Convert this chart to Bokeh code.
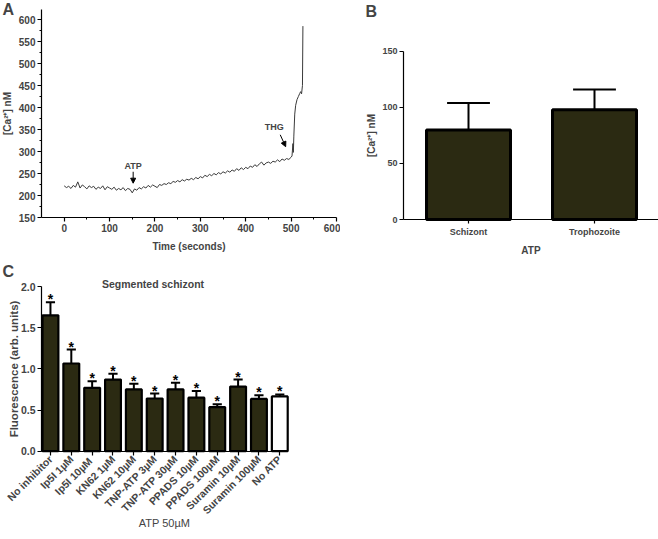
from math import pi
from bokeh.plotting import figure
from bokeh.layouts import row, column
from bokeh.models import (Range1d, FixedTicker, Label, Arrow, NormalHead,
                          ColumnDataSource, NumeralTickFormatter)
from bokeh.core.properties import value
from bokeh.embed import file_html
from bokeh.resources import INLINE

FONT = "Liberation Sans"
BAR_FILL = "#2b2a12"

# ---------------- Panel A data: Ca2+ trace ----------------
time_s = [0, 5, 10, 15, 20, 25, 30, 35, 40, 45, 50,
          55, 60, 65, 70, 75, 80, 85, 90, 95, 100,
          105, 110, 115, 120, 125, 130, 135, 140, 145, 150,
          155, 160, 165, 170, 175, 180, 185, 190, 195, 200,
          205, 210, 215, 220, 225, 230, 235, 240, 245, 250,
          255, 260, 265, 270, 275, 280, 285, 290, 295, 300,
          305, 310, 315, 320, 325, 330, 335, 340, 345, 350,
          355, 360, 365, 370, 375, 380, 385, 390, 395, 400,
          405, 410, 415, 420, 425, 430, 435, 440, 445, 450,
          455, 460, 465, 470, 475, 480, 485, 490, 495, 500,
          502, 504, 505, 506, 508, 510, 513, 516, 519, 521, 523, 525, 526]
ca_nM = [222, 218, 221, 216, 223, 219, 231, 217, 224, 220, 215,
         222, 218, 221, 214, 219, 216, 222, 213, 220, 217,
         214, 219, 212, 216, 213, 218, 211, 216, 214, 206,
         215, 212, 218, 215, 220, 217, 223, 219, 224, 221,
         218, 225, 223, 227, 225, 229, 227, 232, 230, 234,
         231, 236, 233, 237, 235, 239, 236, 241, 238, 243,
         240, 246, 243, 248, 245, 250, 247, 252, 249, 254,
         251, 256, 253, 258, 255, 261, 257, 263, 259, 264,
         261, 267, 264, 270, 266, 272, 276, 269, 274, 276,
         273, 278, 276, 281, 277, 283, 280, 284, 282, 287,
         290, 318, 298, 335, 385, 405, 418, 425, 432, 436, 431, 450, 585]
x_ticks_A = [0, 100, 200, 300, 400, 500, 600]
y_ticks_A = [150, 200, 250, 300, 350, 400, 450, 500, 550, 600]

# ---------------- Panel B data ----------------
stages = ["Schizont", "Trophozoite"]
stage_ca = [80, 98]
stage_sem = [24, 18]
y_ticks_B = [0, 50, 100, 150]

# ---------------- Panel C data ----------------
treatments = ["No inhibitor", "Ip5I 1µM", "Ip5I  10µM", "KN62 1µM", "KN62 10µM",
              "TNP-ATP 3µM", "TNP-ATP 30µM", "PPADS 10µM", "PPADS 100µM",
              "Suramin 10µM", "Suramin 100µM", "No ATP"]
fluor = [1.65, 1.065, 0.77, 0.87, 0.75, 0.64, 0.75, 0.65, 0.535, 0.785, 0.635, 0.665]
fluor_sem = [0.16, 0.17, 0.08, 0.07, 0.07, 0.06, 0.08, 0.08, 0.035, 0.085, 0.045, 0.025]
fill_C = [BAR_FILL] * 11 + ["white"]
y_ticks_C = [0.0, 0.5, 1.0, 1.5, 2.0]


def base_fig(w, h, xr, yr):
    p = figure(width=w, height=h, x_range=xr, y_range=yr,
               output_backend="svg", toolbar_location=None,
               min_border_left=0, min_border_right=0,
               min_border_top=0, min_border_bottom=0)
    p.outline_line_color = None
    p.xgrid.visible = False
    p.ygrid.visible = False
    p.background_fill_color = "white"
    p.border_fill_color = "white"
    for ax in (p.xaxis[0], p.yaxis[0]):
        ax.axis_line_color = "black"
        ax.axis_line_width = 1.2
        ax.major_tick_line_color = "black"
        ax.major_tick_line_width = 1.2
        ax.minor_tick_line_color = "black"
        ax.major_tick_in = 0
        ax.major_tick_out = 4
        ax.minor_tick_in = 0
        ax.minor_tick_out = 2
        ax.major_label_text_font = FONT
        ax.major_label_text_font_style = "bold"
        ax.major_label_text_font_size = "9px"
        ax.major_label_standoff = 2
        ax.axis_label_text_font = FONT
        ax.axis_label_text_font_style = "bold"
        ax.axis_label_text_font_size = "10px"
        ax.axis_label_standoff = 4
    return p


def letter(p, txt, x, y):
    p.add_layout(Label(x=x, y=y, text=txt, text_font=FONT, text_font_style="bold",
                       text_font_size="16px", text_baseline="top", text_align="left"))


# ================= Panel A =================
pA = base_fig(340, 260, Range1d(-140.3, 608.8), Range1d(52.3, 643.2))
pA.line(time_s, ca_nM, line_color="#3a3a3a", line_width=1)
pA.yaxis.fixed_location = -50
pA.xaxis.fixed_location = 150
pA.yaxis.bounds = (150, 622)
pA.xaxis.bounds = (-50, 600)
pA.xaxis.ticker = FixedTicker(ticks=x_ticks_A, minor_ticks=[50, 150, 250, 350, 450, 550])
pA.yaxis.ticker = FixedTicker(ticks=y_ticks_A,
                              minor_ticks=[175, 225, 275, 325, 375, 425, 475, 525, 575])
pA.xaxis.major_label_text_font_size = "10px"
pA.yaxis.major_label_text_font_size = "10px"
pA.xaxis.axis_label = "Time (seconds)"
pA.xaxis.axis_label_standoff = 6
pA.yaxis.axis_label = "[Ca²⁺] nM"
pA.yaxis.axis_label_standoff = 3
pA.add_layout(Label(x=152, y=266, text="ATP", text_font=FONT, text_font_style="bold",
                    text_font_size="9px", text_align="center", text_baseline="middle"))
pA.add_layout(Arrow(x_start=152, y_start=254, x_end=152, y_end=228, line_width=1,
                    end=NormalHead(size=5, fill_color="black", line_color="black")))
pA.add_layout(Label(x=463, y=355, text="THG", text_font=FONT, text_font_style="bold",
                    text_font_size="9px", text_align="center", text_baseline="middle"))
pA.add_layout(Arrow(x_start=476, y_start=338, x_end=488, y_end=311, line_width=1,
                    end=NormalHead(size=5, fill_color="black", line_color="black")))
letter(pA, "A", -136, 643)

# ================= Panel B =================
xB = list(range(len(stages)))
pB = base_fig(318, 260, Range1d(-1.016, 1.508), Range1d(-36.6, 195.5))
pB.vbar(x=xB, top=stage_ca, width=0.667, fill_color=BAR_FILL,
        line_color="black", line_width=3)
srcB = ColumnDataSource(dict(x=xB, lo=stage_ca,
                             hi=[v + e for v, e in zip(stage_ca, stage_sem)],
                             c0=[i - 0.17 for i in xB], c1=[i + 0.17 for i in xB]))
pB.segment(x0="x", y0="lo", x1="x", y1="hi", source=srcB, line_color="black", line_width=2)
pB.segment(x0="c0", y0="hi", x1="c1", y1="hi", source=srcB, line_color="black", line_width=2)
pB.yaxis.fixed_location = -0.516
pB.xaxis.fixed_location = 0
pB.yaxis.bounds = (0, 150)
pB.xaxis.bounds = (-0.516, 1.508)
pB.xaxis.ticker = FixedTicker(ticks=xB)
pB.xaxis.major_label_overrides = {i: s for i, s in enumerate(stages)}
pB.xaxis.major_label_standoff = 3
pB.xaxis.axis_label = "ATP"
pB.xaxis.axis_label_standoff = 5
pB.yaxis.ticker = FixedTicker(ticks=y_ticks_B)
pB.yaxis.axis_label = "[Ca²⁺] nM"
pB.yaxis.axis_label_standoff = 2
letter(pB, "B", -0.818, 193)

# ================= Panel C =================
xC = list(range(len(treatments)))
pC = base_fig(340, 271, Range1d(-2.396, 13.912), Range1d(-0.975, 2.316))
pC.vbar(x=xC, top=fluor, width=0.76, fill_color=fill_C,
        line_color="black", line_width=2.2)
hiC = [v + e for v, e in zip(fluor, fluor_sem)]
srcC = ColumnDataSource(dict(x=xC, lo=fluor, hi=hiC,
                             c0=[i - 0.22 for i in xC], c1=[i + 0.22 for i in xC]))
pC.segment(x0="x", y0="lo", x1="x", y1="hi", source=srcC, line_color="black", line_width=2)
pC.segment(x0="c0", y0="hi", x1="c1", y1="hi", source=srcC, line_color="black", line_width=2)
pC.text(x="x", y="hi", text=value("*"), source=srcC, text_font=value(FONT),
        text_font_style="bold", text_font_size="14px", text_align="center",
        text_baseline="alphabetic", y_offset=-3)
pC.yaxis.fixed_location = -0.43
pC.xaxis.fixed_location = 0
pC.yaxis.bounds = (0, 2.0)
pC.xaxis.bounds = (-0.43, 11.37)
pC.xaxis.ticker = FixedTicker(ticks=xC)
pC.xaxis.major_label_overrides = {i: s for i, s in enumerate(treatments)}
pC.xaxis.major_label_orientation = pi / 4
pC.xaxis.major_label_text_font_size = "10.5px"
pC.xaxis.axis_label = "ATP 50µM"
pC.xaxis.axis_label_text_font_style = "normal"
pC.xaxis.axis_label_text_font_size = "11px"
pC.xaxis.axis_label_standoff = -7
pC.yaxis.ticker = FixedTicker(ticks=y_ticks_C)
pC.yaxis.formatter = NumeralTickFormatter(format="0.0")
pC.yaxis.major_label_text_font_size = "10.5px"
pC.yaxis.axis_label = "Fluorescence (arb. units)"
pC.yaxis.axis_label_text_font_size = "11.5px"
pC.yaxis.axis_label_standoff = -2
pC.add_layout(Label(x=4.92, y=2.025, text="Segmented schizont", text_font=FONT,
                    text_font_style="bold", text_font_size="10.5px",
                    text_align="center", text_baseline="middle"))
letter(pC, "C", -2.30, 2.28)

layout = column(row(pA, pB), pC)
open("out.html", "w").write(file_html(layout, INLINE))
